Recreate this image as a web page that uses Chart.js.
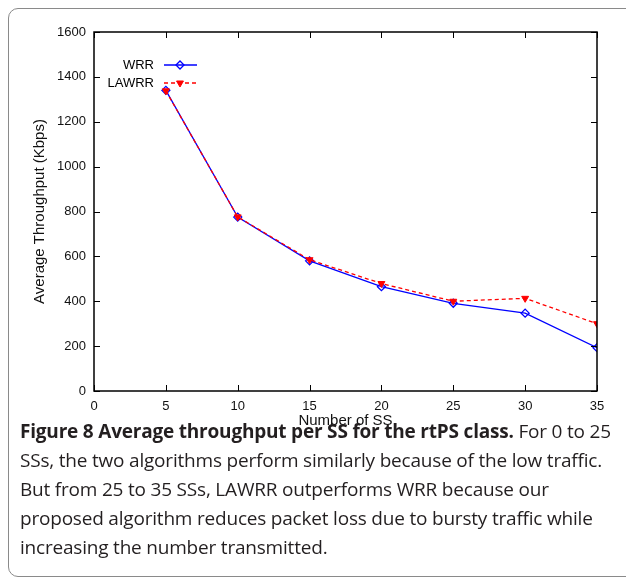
<!DOCTYPE html>
<html>
<head>
<meta charset="utf-8">
<script src="https://cdn.jsdelivr.net/npm/chart.js@4"></script>
<style>
  html, body { margin: 0; padding: 0; background: #fff; }
  body { width: 626px; height: 584px; position: relative; overflow: hidden; }
  #frame { position: absolute; left: 8px; top: 8px; width: 640px; height: 569px;
           border: 1px solid #8a8a8a; border-radius: 10px; box-sizing: border-box; }
  #wrap { position: absolute; left: 0; top: 0; width: 626px; height: 440px; }
  #caption { position: absolute; left: 20px; top: 417px; font-family: "Open Sans", sans-serif;
             font-size: 19px; line-height: 29px; color: #231f20; white-space: nowrap; letter-spacing: -0.2px; }
  #caption b { font-weight: 700; }
</style>
</head>
<body>
<div id="frame"></div>
<div id="wrap"><canvas id="c" width="626" height="440"></canvas></div>
<div id="caption"><b>Figure 8 Average throughput per SS for the rtPS class.</b> For 0 to 25<br>SSs, the two algorithms perform similarly because of the low traffic.<br>But from 25 to 35 SSs, LAWRR outperforms WRR because our<br>proposed algorithm reduces packet loss due to bursty traffic while<br>increasing the number transmitted.</div>
<script>
const numberOfSS = [5, 10, 15, 20, 25, 30, 35];
const wrr   = [1340, 775, 580, 465, 391, 347, 193];
const lawrr = [1338, 776, 585, 479, 400, 413, 300];
const yTicks = [0, 200, 400, 600, 800, 1000, 1200, 1400, 1600];
const xTicks = [0, 5, 10, 15, 20, 25, 30, 35];

const FONT = "'Liberation Sans', Arial, sans-serif";
const toPts = (xs, ys) => xs.map((x, i) => ({ x: x, y: ys[i] }));

const innerTicks = {
  id: 'innerTicks',
  afterDatasetsDraw(chart) {
    const ctx = chart.ctx, a = chart.chartArea;
    const xs = chart.scales.x, ys = chart.scales.y;
    ctx.save();
    ctx.strokeStyle = '#000';
    ctx.lineWidth = 1;
    ctx.beginPath();
    xTicks.forEach(v => {
      const px = Math.round(xs.getPixelForValue(v)) + 0.5;
      ctx.moveTo(px, a.bottom); ctx.lineTo(px, a.bottom - 6);
      ctx.moveTo(px, a.top); ctx.lineTo(px, a.top + 6);
    });
    yTicks.forEach(v => {
      const py = Math.round(ys.getPixelForValue(v)) + 0.5;
      ctx.moveTo(a.left, py); ctx.lineTo(a.left + 6, py);
      ctx.moveTo(a.right, py); ctx.lineTo(a.right - 6, py);
    });
    ctx.stroke();
    ctx.lineWidth = 1.5;
    ctx.strokeRect(a.left, a.top, a.right - a.left, a.bottom - a.top);
    ctx.restore();
  }
};

const legendPlugin = {
  id: 'customLegend',
  afterDraw(chart) {
    const ctx = chart.ctx;
    ctx.save();
    ctx.font = '13px ' + FONT;
    ctx.textAlign = 'right';
    ctx.textBaseline = 'middle';
    const rows = [{ ds: 0, y: 65 }, { ds: 1, y: 83 }];
    rows.forEach(r => {
      const d = chart.data.datasets[r.ds];
      ctx.fillStyle = '#000';
      ctx.fillText(d.label, 154, r.y);
      ctx.strokeStyle = d.borderColor;
      ctx.lineWidth = d.borderWidth;
      ctx.setLineDash(d.borderDash || []);
      ctx.beginPath(); ctx.moveTo(164, r.y); ctx.lineTo(197, r.y); ctx.stroke();
      ctx.setLineDash([]);
      ctx.fillStyle = d.pointBackgroundColor;
      ctx.strokeStyle = d.pointBorderColor;
      ctx.lineWidth = d.pointBorderWidth;
      Chart.helpers.drawPoint(ctx, {
        pointStyle: d.pointStyle, radius: d.pointRadius, rotation: d.pointRotation || 0,
        borderWidth: d.pointBorderWidth
      }, 180, r.y);
    });
    ctx.restore();
  }
};

Chart.defaults.font.family = FONT;
Chart.defaults.font.size = 13;
Chart.defaults.color = '#111';

new Chart(document.getElementById('c'), {
  type: 'line',
  data: {
    datasets: [
      { label: 'WRR', data: toPts(numberOfSS, wrr), borderColor: '#0000ff', backgroundColor: 'rgba(255,255,255,0)',
        borderWidth: 1.3, pointStyle: 'rectRot', pointRadius: 4, pointBorderWidth: 1.3,
        pointBackgroundColor: 'rgba(255,255,255,0)', pointBorderColor: '#0000ff', order: 2 },
      { label: 'LAWRR', data: toPts(numberOfSS, lawrr), borderColor: '#ff0000', backgroundColor: '#ff0000',
        borderWidth: 1.3, borderDash: [4, 3], pointStyle: 'triangle', pointRotation: 180, pointRadius: 4,
        pointBorderWidth: 1, pointBackgroundColor: '#ff0000', pointBorderColor: '#ff0000', order: 1 }
    ]
  },
  options: {
    responsive: false,
    animation: false,
    events: [],
    layout: { padding: { top: 32, right: 29, left: 0, bottom: 0 } },
    plugins: { legend: { display: false }, tooltip: { enabled: false } },
    scales: {
      x: {
        type: 'linear', min: 0, max: 35,
        afterBuildTicks: s => { s.ticks = xTicks.map(v => ({ value: v })); },
        afterFit: s => { s.height = 49; },
        grid: { display: false, drawTicks: false },
        border: { display: false },
        ticks: { padding: 8, color: '#111', font: { size: 13 }, callback: v => String(v) },
        title: { display: true, text: 'Number of SS', color: '#111', font: { size: 15 }, padding: { top: 0, bottom: 10 } }
      },
      y: {
        min: 0, max: 1600,
        afterBuildTicks: s => { s.ticks = yTicks.map(v => ({ value: v })); },
        afterFit: s => { s.width = 94; },
        grid: { display: false, drawTicks: false },
        border: { display: false },
        ticks: { padding: 8, color: '#111', font: { size: 13 }, callback: v => String(v) },
        title: { display: true, text: 'Average Throughput (Kbps)', color: '#111', font: { size: 15 }, padding: { top: 31, bottom: 0 } }
      }
    }
  },
  plugins: [innerTicks, legendPlugin]
});
</script>
</body>
</html>
